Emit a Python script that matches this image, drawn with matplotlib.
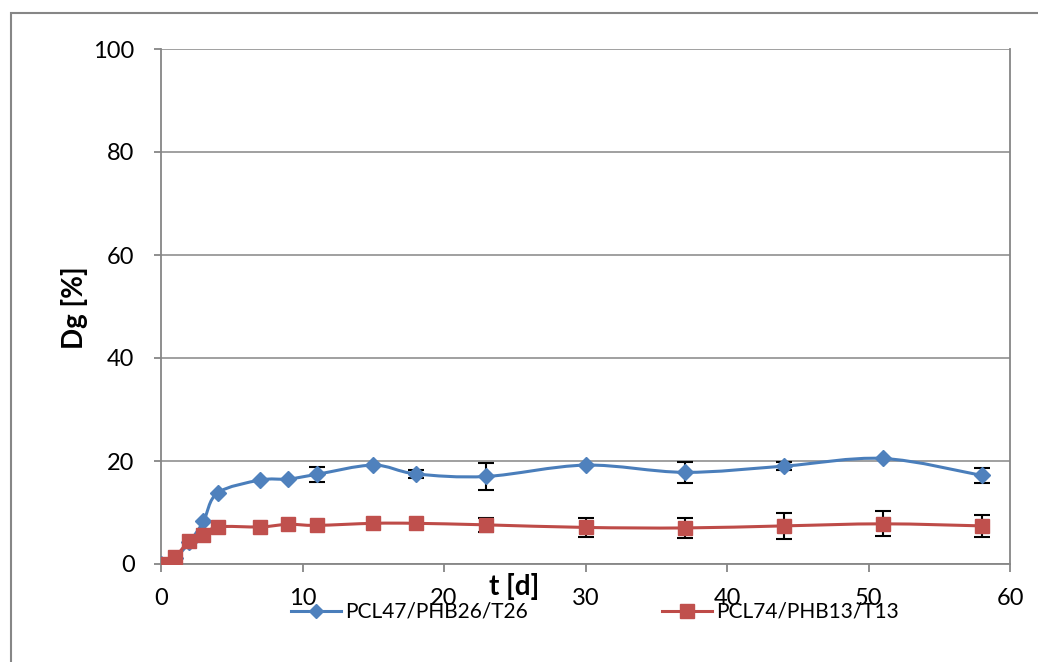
import matplotlib.pyplot as plt
from matplotlib.path import Path
from matplotlib.patches import PathPatch, Rectangle
from matplotlib.lines import Line2D

# data
t_days = [0, 1, 2, 3, 4, 7, 9, 11, 15, 18, 23, 30, 37, 44, 51, 58]
dg_pcl47 = [0, 1.2, 4.2, 8.3, 13.8, 16.3, 16.5, 17.4, 19.2, 17.5, 17.0, 19.2, 17.8, 19.0, 20.5, 17.2]
err_pcl47 = [0, 0, 0, 0, 0, 0, 0, 1.5, 0, 0.8, 2.6, 0, 2.1, 0.8, 0, 1.5]
dg_pcl74 = [0, 1.4, 4.5, 5.6, 7.2, 7.2, 7.7, 7.5, 7.9, 7.9, 7.6, 7.1, 7.0, 7.4, 7.8, 7.4]
err_pcl74 = [0, 0, 0, 0, 0, 0, 0, 0, 0, 0, 1.4, 1.8, 1.9, 2.5, 2.4, 2.2]

labels = ["PCL47/PHB26/T26", "PCL74/PHB13/T13"]
line_colors = ["#4A7EBB", "#BE4B48"]
marker_colors = ["#4F81BD", "#C0504D"]

plt.rcParams['font.family'] = ['Lato', 'DejaVu Sans']
plt.rcParams['font.size'] = 17


def smooth_path(xs, ys):
    # Excel-style smoothed line: cubic Bezier through all points
    pts = list(zip(xs, ys))
    n = len(pts)
    verts = [pts[0]]
    codes = [Path.MOVETO]
    for i in range(n - 1):
        p0 = pts[i - 1] if i > 0 else pts[i]
        p1 = pts[i]
        p2 = pts[i + 1]
        p3 = pts[i + 2] if i + 2 < n else pts[i + 1]
        c1 = (p1[0] + (p2[0] - p0[0]) / 6, p1[1] + (p2[1] - p0[1]) / 6)
        c2 = (p2[0] - (p3[0] - p1[0]) / 6, p2[1] - (p3[1] - p1[1]) / 6)
        verts += [c1, c2, p2]
        codes += [Path.CURVE4] * 3
    return Path(verts, codes)


fig = plt.figure(figsize=(10.38, 6.62), dpi=100)
ax = fig.add_axes([161 / 1038, 1 - 564 / 662, 849 / 1038, 515 / 662])

series = [(dg_pcl47, err_pcl47, 'D', 8.5), (dg_pcl74, err_pcl74, 's', 10.5)]
handles = []
for (ys, errs, mk, ms), lc, mc, lab in zip(series, line_colors, marker_colors, labels):
    ax.add_patch(PathPatch(smooth_path(t_days, ys), fill=False, edgecolor=lc,
                           linewidth=2.2, zorder=3))
    ex = [x for x, e in zip(t_days, errs) if e > 0]
    ey = [y for y, e in zip(ys, errs) if e > 0]
    ee = [e for e in errs if e > 0]
    ax.errorbar(ex, ey, yerr=ee, fmt='none', ecolor='black', elinewidth=1.5,
                capsize=6, capthick=1.5, zorder=4)
    ax.plot(t_days, ys, linestyle='none', marker=mk, markersize=ms,
            color=mc, markeredgecolor=mc, zorder=5)
    handles.append(Line2D([], [], color=lc, linewidth=2.2, marker=mk,
                          markersize=ms - 1, markerfacecolor=mc, markeredgecolor=mc))

ax.set_xlim(0, 60)
ax.set_ylim(0, 100)
ax.set_xticks(range(0, 61, 10))
ax.set_yticks(range(0, 101, 20))
ax.grid(axis='y', color='#868686', linewidth=1.1)
ax.set_axisbelow(True)
for s in ax.spines.values():
    s.set_color('#868686')
    s.set_linewidth(1.3)
ax.spines['top'].set_visible(False)
ax.tick_params(axis='x', direction='out', length=6, width=1.3, color='#868686', pad=11)
ax.tick_params(axis='y', direction='out', length=5, width=1.3, color='#868686', pad=14)

fig.text(514 / 1038, 1 - 586 / 662, 't [d]', ha='center', va='center',
         fontweight='bold', fontsize=20)
fig.text(75 / 1038, 1 - 308 / 662, 'Dg [%]', ha='center', va='center',
         rotation=90, fontweight='bold', fontsize=20)

fig.legend(handles, labels, loc='center', bbox_to_anchor=(595 / 1038, 1 - 612 / 662),
           ncol=2, frameon=False, handlelength=2.4, columnspacing=6.4,
           handletextpad=0.2, fontsize=15)

fig.patches.append(Rectangle((11 / 1038, -0.1), 1.2, 1.1 - 13 / 662, fill=False,
                             edgecolor='#868686', linewidth=1.5,
                             transform=fig.transFigure, figure=fig))

fig.savefig('out.png', dpi=100)
